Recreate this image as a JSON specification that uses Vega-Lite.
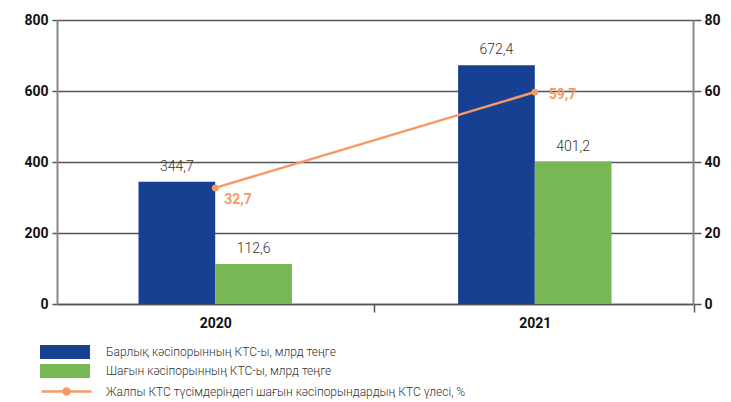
{
  "$schema": "https://vega.github.io/schema/vega-lite/v6.json",
  "width": 636,
  "height": 284,
  "autosize": {"type": "none"},
  "padding": {"left": 57, "top": 20, "right": 38, "bottom": 98},
  "config": {
    "view": {"stroke": null},
    "locale": {"number": {"decimal": ",", "thousands": " ", "grouping": [3], "currency": ["", ""]}},
    "axis": {"labelFont": "Roboto", "labelFontWeight": "bold", "labelFontSize": 14, "labelColor": "#111", "title": null},
    "legend": {"title": null, "padding": 0, "labelFont": "Roboto", "labelFontSize": 12, "labelFontWeight": 300, "labelColor": "#333", "labelLimit": 600, "labelOffset": 34, "symbolSize": 196}
  },
  "datasets": {
    "bars": [
      {"year": "2020", "series": "Барлық кәсіпорынның КТС-ы, млрд теңге", "value": 344.7},
      {"year": "2020", "series": "Шағын кәсіпорынның КТС-ы, млрд теңге", "value": 112.6},
      {"year": "2021", "series": "Барлық кәсіпорынның КТС-ы, млрд теңге", "value": 672.4},
      {"year": "2021", "series": "Шағын кәсіпорынның КТС-ы, млрд теңге", "value": 401.2}
    ],
    "share": [
      {"year": "2020", "series": "Жалпы КТС түсімдеріндегі шағын кәсіпорындардың КТС үлесі, %", "share": 32.7},
      {"year": "2021", "series": "Жалпы КТС түсімдеріндегі шағын кәсіпорындардың КТС үлесі, %", "share": 59.7}
    ]
  },
  "encoding": {
    "x": {
      "field": "year", "type": "nominal",
      "scale": {"paddingInner": 0.52, "paddingOuter": 0.255},
      "axis": {"labelAngle": 0, "tickOffset": 159, "labelOffset": -159, "tickSize": 8, "tickColor": "#555", "tickWidth": 1.5, "domainColor": "#555", "domainWidth": 1.5, "labelPadding": 4}
    }
  },
  "layer": [
    {
      "data": {"name": "bars"},
      "encoding": {
        "y": {
          "field": "value", "type": "quantitative",
          "scale": {"domain": [0, 800]},
          "axis": {"values": [0, 200, 400, 600, 800], "grid": true, "gridColor": "#555", "gridWidth": 1.3, "tickSize": 5, "tickColor": "#555", "tickWidth": 1.5, "domainColor": "#888", "domainWidth": 2, "labelPadding": 4, "format": "d"}
        },
        "xOffset": {"field": "series", "type": "nominal", "sort": null}
      },
      "layer": [
        {
          "mark": {"type": "bar"},
          "encoding": {
            "fill": {
              "field": "series", "type": "nominal",
              "scale": {
                "domain": ["Барлық кәсіпорынның КТС-ы, млрд теңге", "Шағын кәсіпорынның КТС-ы, млрд теңге"],
                "range": ["#174093", "#77B855"]
              },
              "legend": {
                "orient": "none",
                "legendX": 1,
                "legendY": 325,
                "rowPadding": 5,
                "symbolType": "M-3.57,-1H3.57V1H-3.57Z",
                "symbolStrokeWidth": 0
              }
            }
          }
        },
        {
          "mark": {"type": "text", "font": "Roboto", "fontSize": 14, "fontWeight": 300, "color": "#333", "baseline": "middle", "dy": -15},
          "encoding": {
            "text": {"field": "value", "type": "quantitative", "format": ".1f"}
          }
        }
      ]
    },
    {
      "data": {"name": "share"},
      "encoding": {
        "y": {
          "field": "share", "type": "quantitative",
          "scale": {"domain": [0, 80]},
          "axis": {"orient": "right", "values": [0, 20, 40, 60, 80], "grid": false, "tickSize": 8, "tickColor": "#555", "tickWidth": 1.5, "domainColor": "#888", "domainWidth": 2, "labelPadding": 3, "format": "d"}
        }
      },
      "layer": [
        {
          "mark": {"type": "line", "strokeWidth": 2.5},
          "encoding": {
            "stroke": {
              "field": "series", "type": "nominal",
              "scale": {"range": ["#F59A66"]},
              "legend": {
                "orient": "none",
                "legendX": 1,
                "legendY": 363,
                "labelOffset": 31,
                "symbolType": "M-3.57,0H3.57M0.43,0A0.43,0.43 0 1 1 -0.43,0A0.43,0.43 0 1 1 0.43,0Z",
                "symbolStrokeWidth": 2.5,
                "symbolFillColor": "#F59A66"
              }
            }
          }
        },
        {
          "mark": {"type": "point", "filled": true, "size": 45, "opacity": 1, "color": "#F59A66"}
        },
        {
          "transform": [{"filter": "datum.year === '2020'"}],
          "mark": {"type": "text", "font": "Roboto", "fontSize": 14, "fontWeight": "bold", "color": "#F59A66", "align": "left", "baseline": "middle", "dx": 9, "dy": 12},
          "encoding": {"text": {"field": "share", "type": "quantitative", "format": ".1f"}}
        },
        {
          "transform": [{"filter": "datum.year === '2021'"}],
          "mark": {"type": "text", "font": "Roboto", "fontSize": 14, "fontWeight": "bold", "color": "#F59A66", "align": "left", "baseline": "middle", "dx": 14, "dy": 3},
          "encoding": {"text": {"field": "share", "type": "quantitative", "format": ".1f"}}
        }
      ]
    }
  ],
  "resolve": {"scale": {"y": "independent"}}
}
